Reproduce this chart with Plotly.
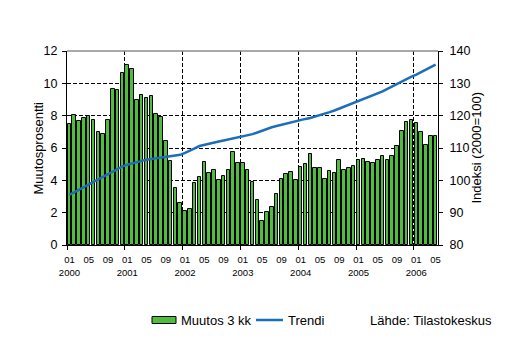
import plotly.graph_objects as go

# ---- data ----
years = ["2000", "2001", "2002", "2003", "2004", "2005", "2006"]
month_labels = ["01", "05", "09"]
months = [f"{y}-{m:02d}" for y in years for m in range(1, 13)][:77]

change_3m = [7.48, 8.04, 7.69, 7.83, 7.98, 7.73, 6.99, 6.86, 7.73, 9.63, 9.57, 10.64,
             11.13, 10.88, 8.97, 9.28, 9.11, 9.21, 8.08, 7.90, 6.41, 5.21, 3.50, 2.58,
             2.08, 2.20, 3.81, 4.19, 5.11, 4.43, 4.62, 4.00, 4.25, 4.62, 5.73, 5.05,
             5.05, 4.62, 3.88, 2.76, 1.47, 2.02, 2.33, 3.14, 4.06, 4.37, 4.50, 4.00,
             4.80, 4.99, 5.61, 4.74, 4.74, 4.06, 4.56, 4.43, 5.24, 4.62, 4.74, 4.87,
             5.24, 5.32, 5.11, 5.05, 5.24, 5.48, 5.24, 5.48, 6.12, 7.05, 7.61, 7.73,
             7.52, 6.99, 6.18, 6.74, 6.74]

trend = [95.5, 96.3, 97.0, 97.7, 98.5, 99.4, 100.2, 101.0, 101.9, 102.7, 103.5, 104.3,
         104.8, 105.2, 105.7, 106.0, 106.4, 106.6, 106.8, 107.0, 107.1, 107.3, 107.5, 107.9,
         108.5, 109.1, 109.9, 110.6, 111.0, 111.4, 111.6, 112.0, 112.3, 112.6, 112.9, 113.2,
         113.5, 113.8, 114.3, 114.8, 115.4, 115.9, 116.4, 116.8, 117.2, 117.6, 118.0, 118.3,
         118.6, 119.0, 119.3, 119.7, 120.2, 120.6, 121.1, 121.6, 122.2, 122.8, 123.4, 124.0,
         124.5, 125.0, 125.6, 126.2, 126.8, 127.5, 128.3, 129.1, 129.9, 130.7, 131.4, 132.1,
         132.7, 133.4, 134.2, 135.0, 135.8]

series_names = ["Muutos 3 kk", "Trendi"]
source_text = "Lähde: Tilastokeskus"
left_title = "Muutosprosentti"
right_title = "Indeksi (2000=100)"

# ---- styling ----
GREEN = "#4EBE3C"
BLUE = "#1C6EBA"
FONT = "Arial, Liberation Sans, sans-serif"
W, H = 508, 351
ML, MR, MT, MB = 67, 70, 51, 106
PW, PH = W - ML - MR, H - MT - MB


def px_x(p):
    return (p - ML) / PW


def px_y(p):
    return (H - MB - p) / PH


x = list(range(len(months)))

# month tick positions / labels
tickvals, ticktext = [], []
for i, m in enumerate(months):
    yy, mm = m.split("-")
    if mm in month_labels:
        tickvals.append(i)
        ticktext.append(f"{mm}<br>{yy}" if mm == "01" else mm)

fig = go.Figure()
fig.add_trace(go.Bar(x=x, y=change_3m, name=series_names[0], width=0.72,
                     marker=dict(color=GREEN, line=dict(color="black", width=1)),
                     showlegend=False, yaxis="y"))
fig.add_trace(go.Scatter(x=x, y=trend, name=series_names[1], mode="lines",
                         line=dict(color=BLUE, width=2.5), showlegend=False, yaxis="y2"))

fig.update_layout(
    width=W, height=H, margin=dict(l=ML, r=MR, t=MT, b=MB),
    paper_bgcolor="white", plot_bgcolor="white",
    font=dict(family=FONT, color="black", size=12),
    bargap=0,
    xaxis=dict(range=[-0.5, len(months) - 0.5], tickmode="array", tickvals=tickvals,
               ticktext=ticktext, ticks="", showgrid=False, zeroline=False,
               showline=True, linecolor="black", linewidth=1,
               tickfont=dict(size=9.5), ticklabelstandoff=6,
               minor=dict(tickmode="linear", tick0=11.5, dtick=12, ticks="outside",
                          ticklen=4, tickcolor="black", showgrid=True,
                          gridcolor="black", griddash="4px,2px", gridwidth=1)),
    yaxis=dict(range=[0, 12], dtick=2, showgrid=True, gridcolor="black",
               griddash="4px,2px", gridwidth=1, zeroline=False, showline=True,
               linecolor="black", linewidth=1, ticks="outside", ticklen=4,
               tickcolor="black", tickfont=dict(size=12.5), ticklabelstandoff=2),
    yaxis2=dict(range=[80, 140], dtick=10, overlaying="y", side="right",
                showgrid=False, zeroline=False, showline=True, linecolor="black",
                linewidth=1, ticks="outside", ticklen=4, tickcolor="black",
                tickfont=dict(size=12.5), ticklabelstandoff=4),
    yaxis3=dict(range=[0, 12], dtick=2, overlaying="y", side="left", showgrid=False,
                zeroline=False, showticklabels=False, ticks="inside", ticklen=4,
                tickcolor="black"),
    yaxis4=dict(range=[80, 140], dtick=10, overlaying="y", side="right", showgrid=False,
                zeroline=False, showticklabels=False, ticks="inside", ticklen=4,
                tickcolor="black"),
)

shapes = [
    # grey top border of the plot area
    dict(type="line", xref="paper", yref="paper", x0=0, x1=1, y0=1, y1=1,
         line=dict(color="#8C8C8C", width=1.5), layer="above"),
    # legend key: bar
    dict(type="rect", xref="paper", yref="paper", x0=px_x(152), x1=px_x(176),
         y0=px_y(323.5), y1=px_y(316.5), fillcolor=GREEN,
         line=dict(color="black", width=1)),
    # legend key: line
    dict(type="line", xref="paper", yref="paper", x0=px_x(256), x1=px_x(283),
         y0=px_y(320), y1=px_y(320), line=dict(color=BLUE, width=2.5)),
]

annotations = [
    dict(text=left_title, xref="paper", yref="paper", x=px_x(28), y=0.5,
         textangle=-90, showarrow=False, font=dict(size=13)),
    dict(text=right_title, xref="paper", yref="paper", x=px_x(485), y=0.5,
         textangle=-90, showarrow=False, font=dict(size=13)),
    dict(text=series_names[0], xref="paper", yref="paper", x=px_x(179), y=px_y(320),
         xanchor="left", yanchor="middle", showarrow=False, font=dict(size=13)),
    dict(text=series_names[1], xref="paper", yref="paper", x=px_x(286), y=px_y(320),
         xanchor="left", yanchor="middle", showarrow=False, font=dict(size=13)),
    dict(text=source_text, xref="paper", yref="paper", x=px_x(368), y=px_y(320),
         xanchor="left", yanchor="middle", showarrow=False, font=dict(size=13)),
]

fig.update_layout(shapes=shapes, annotations=annotations)
fig.write_html("out.html")
